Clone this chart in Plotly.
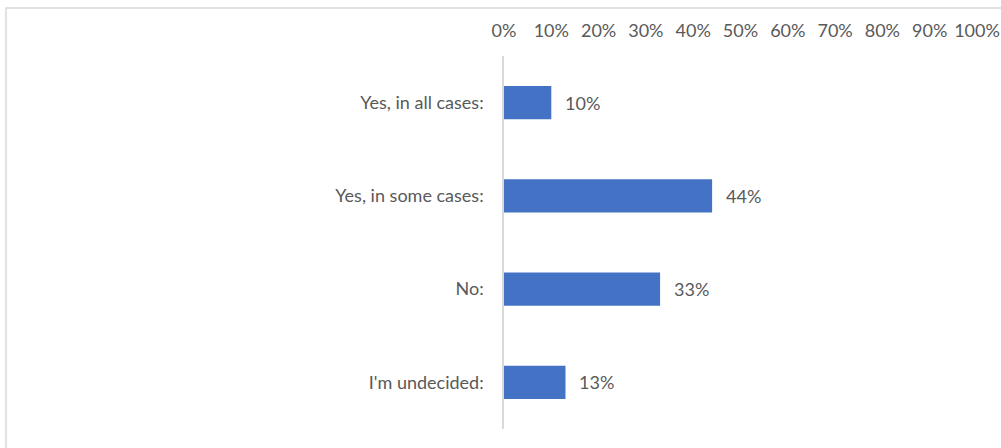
import plotly.graph_objects as go

categories = ["Yes, in all cases:", "Yes, in some cases:", "No:", "I'm undecided:"]
values = [10, 44, 33, 13]
tick_vals = list(range(0, 101, 10))
tick_text = [f"{v}%" for v in tick_vals]

BAR_COLOR = "#4472C4"
TEXT_COLOR = "#595959"
FONT = "Lato"
FONT_SIZE = 18

# plot area in pixels
L, R, T, B = 504, 24, 56, 19
PW, PH = 1001 - L - R, 448 - T - B

fig = go.Figure()
fig.add_trace(go.Bar(
    y=categories,
    x=values,
    orientation="h",
    marker=dict(color=BAR_COLOR, line=dict(width=0)),
    width=0.355,
    hoverinfo="skip",
))

# value labels to the right of each bar
for cat, val in zip(categories, values):
    fig.add_annotation(
        x=val, y=cat, text=f"{val}%", showarrow=False,
        xanchor="left", yanchor="middle", xshift=12,
        font=dict(family=FONT, size=FONT_SIZE, color=TEXT_COLOR),
    )

fig.update_layout(
    width=1001, height=448,
    margin=dict(l=L, r=R, t=T, b=B),
    paper_bgcolor="white",
    plot_bgcolor="white",
    showlegend=False,
    font=dict(family=FONT, size=FONT_SIZE, color=TEXT_COLOR),
    xaxis=dict(
        side="top", range=[0, 100], tickvals=tick_vals, ticktext=tick_text,
        showgrid=False, zeroline=False, showline=False, ticks="",
        ticklabelstandoff=14, fixedrange=True, automargin=False,
    ),
    yaxis=dict(
        categoryorder="array", categoryarray=categories[::-1],
        showgrid=False, zeroline=False, showline=True, linecolor="#D9D9D9",
        linewidth=1.5, ticks="", ticklabelstandoff=15, fixedrange=True,
        automargin=False,
    ),
)

# chart frame (left and top edges fall inside the page)
fig.add_shape(
    type="rect", xref="paper", yref="paper",
    x0=(6 - L) / PW, x1=(1100 - L) / PW,
    y0=(PH - (500 - T)) / PH, y1=(PH + (T - 8)) / PH,
    line=dict(color="#D9D9D9", width=1.5), fillcolor="rgba(0,0,0,0)",
    layer="below",
)

fig.write_html("out.html", config={"displayModeBar": False})
